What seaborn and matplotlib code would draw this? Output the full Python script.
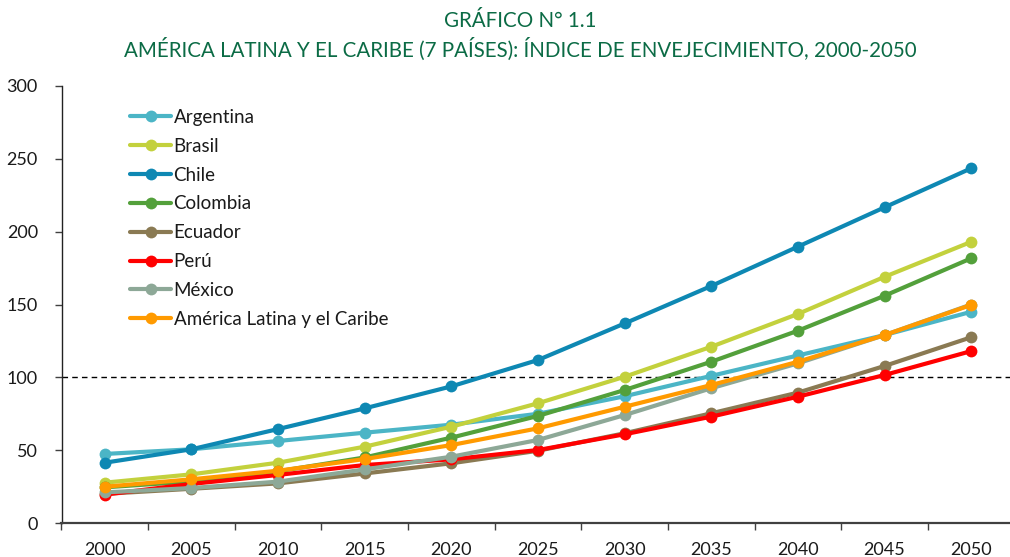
import matplotlib
matplotlib.use("Agg")
import matplotlib.pyplot as plt
import seaborn as sns
import pandas as pd
import numpy as np
from matplotlib.lines import Line2D

years = [2000, 2005, 2010, 2015, 2020, 2025, 2030, 2035, 2040, 2045, 2050]
argentina = [47.4, 50.6, 56.3, 62.0, 67.5, 75.0, 87.0, 101.0, 115.0, 129.0, 145.0]
brasil = [27.7, 33.4, 41.4, 52.4, 66.1, 82.2, 100.4, 121.0, 143.5, 169.0, 193.0]
chile = [41.4, 50.6, 64.5, 78.7, 93.8, 111.9, 137.0, 162.7, 189.7, 216.7, 243.5]
colombia = [24.5, 28.5, 35.5, 45.0, 58.6, 73.5, 91.3, 110.7, 132.0, 156.0, 181.7]
ecuador = [20.0, 23.5, 27.2, 34.0, 41.0, 49.6, 61.6, 75.3, 89.5, 107.8, 127.5]
peru = [19.5, 26.8, 33.0, 39.8, 43.7, 50.1, 60.9, 73.0, 86.7, 101.6, 118.0]
mexico = [21.0, 24.0, 28.4, 36.8, 45.5, 57.0, 74.1, 92.5, 109.6, 129.0, 150.0]
alc = [24.9, 30.0, 35.9, 43.9, 53.5, 65.0, 79.8, 94.7, 110.7, 129.0, 149.7]

series_names = ["Argentina", "Brasil", "Chile", "Colombia", "Ecuador", "Perú",
                "México", "América Latina y el Caribe"]
series_values = [argentina, brasil, chile, colombia, ecuador, peru, mexico, alc]
colors = ["#4BB5C6", "#C3D13D", "#0E88B3", "#53A03B", "#8A7A53", "#FF0000",
          "#8DA897", "#FF9A00"]

title_lines = ["GRÁFICO N° 1.1",
               "AMÉRICA LATINA Y EL CARIBE (7 PAÍSES): ÍNDICE DE ENVEJECIMIENTO, 2000-2050"]

rows = []
for name, vals in zip(series_names, series_values):
    for i, (yr, v) in enumerate(zip(years, vals)):
        rows.append({"pos": i, "year": yr, "serie": name, "valor": v})
df = pd.DataFrame(rows)

sns.set_style("white")
plt.rcParams['font.family'] = ['Lato', 'DejaVu Sans']

fig = plt.figure(figsize=(10.10, 5.57), dpi=100)
ax = fig.add_axes([61.5 / 1010, 34 / 557, 953 / 1010, 437 / 557])

# reference line at 100
ax.axhline(100, color="black", lw=1.0, ls=(0, (4, 3)), zorder=1)

for k, (name, col) in enumerate(zip(series_names, colors)):
    sub = df[df["serie"] == name]
    sns.lineplot(data=sub, x="pos", y="valor", ax=ax, color=col, lw=3.0,
                 marker="o", markersize=8.5, markeredgewidth=0, zorder=3 + k,
                 legend=False)

ax.set_xlim(-0.5, len(years) - 0.5)
ax.set_ylim(0, 300)
ax.set_yticks([0, 50, 100, 150, 200, 250, 300])
ax.set_xticks(range(len(years)))
ax.set_xticklabels([str(y) for y in years])
ax.set_xticks(np.arange(-0.5, len(years), 1.0), minor=True)
ax.set_xlabel("")
ax.set_ylabel("")

for s in ["top", "right"]:
    ax.spines[s].set_visible(False)
ax.spines["bottom"].set_color("#404040")
ax.spines["bottom"].set_linewidth(1.6)
ax.spines["left"].set_color("#222222")
ax.spines["left"].set_linewidth(1.0)

ax.tick_params(axis="x", which="major", length=0, pad=14, labelsize=13,
               labelcolor="#1a1a1a")
ax.tick_params(axis="x", which="minor", length=5, width=1.0, color="#404040",
               direction="out", bottom=True)
ax.tick_params(axis="y", length=5, width=1.0, color="#404040", direction="out",
               left=True, pad=12, labelsize=13, labelcolor="#1a1a1a")

handles = [Line2D([0], [0], color=c, lw=3.0, marker="o", markersize=8.5,
                  markeredgewidth=0) for c in colors]
leg = ax.legend(handles, series_names, loc="upper left",
                bbox_to_anchor=((130 - 61.5) / 953, (523 - 109) / 437),
                frameon=False, fontsize=13.5, handlelength=2.2,
                handletextpad=0.12, labelspacing=0.63, borderpad=0,
                borderaxespad=0)
for t in leg.get_texts():
    t.set_color("#1a1a1a")

fig.text(520 / 1010, 1 - 21 / 557, title_lines[0], ha="center", va="center",
         fontsize=14.8, color="#0B6B45")
fig.text(520 / 1010, 1 - 49 / 557, title_lines[1], ha="center", va="center",
         fontsize=14.8, color="#0B6B45")

fig.savefig("out.png", dpi=100)
